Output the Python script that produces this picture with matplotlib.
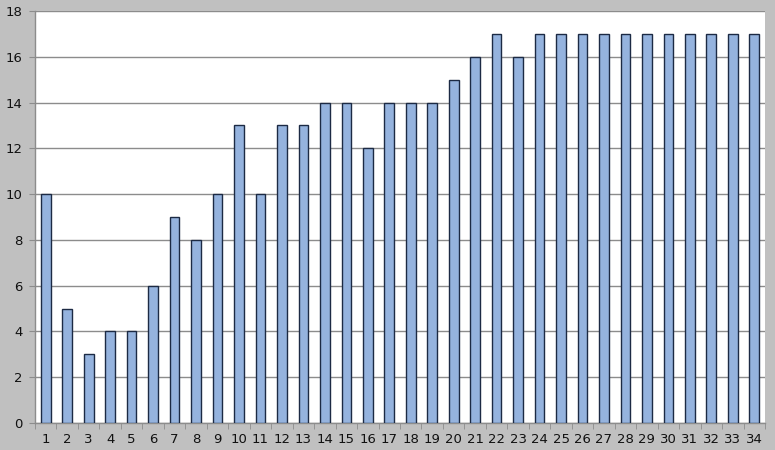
import matplotlib.pyplot as plt
import numpy as np

categories = [str(i) for i in range(1, 35)]
values = [10, 5, 3, 4, 4, 6, 9, 8, 10, 13, 10, 13, 13, 14, 14, 12, 14, 14, 14,
          15, 16, 17, 16, 17, 17, 17, 17, 17, 17, 17, 17, 17, 17, 17]
yticks = list(range(0, 19, 2))

fig = plt.figure(figsize=(7.75, 4.5), dpi=100, facecolor="#c0c0c0")
ax = fig.add_axes([0.0452, 0.06, 0.9419, 0.9156])
ax.set_facecolor("white")

x = np.arange(1, len(values) + 1)
ax.bar(x, values, width=0.45, color="#95b3de", edgecolor="#1c2a44", linewidth=1.0, zorder=3)

ax.set_xlim(0.5, len(values) + 0.5)
ax.set_ylim(0, 18)
ax.set_yticks(yticks)
ax.yaxis.grid(True, color="#8c8c8c", linewidth=1.0, zorder=0)

ax.set_xticks(x)
ax.set_xticklabels(categories)
ax.set_xticks(np.arange(0.5, len(values) + 1, 1), minor=True)
ax.tick_params(axis="x", which="major", length=0, pad=7, labelsize=9.5, labelcolor="#111111")
ax.tick_params(axis="x", which="minor", length=4, direction="out", color="#8c8c8c")
ax.tick_params(axis="y", length=4, direction="out", color="#8c8c8c", labelsize=9.5,
               labelcolor="#111111", pad=5)

for side in ("left", "bottom"):
    ax.spines[side].set_color("#8c8c8c")
    ax.spines[side].set_linewidth(1.0)
for side in ("top", "right"):
    ax.spines[side].set_visible(False)

fig.savefig("out.png", dpi=100, facecolor=fig.get_facecolor())
